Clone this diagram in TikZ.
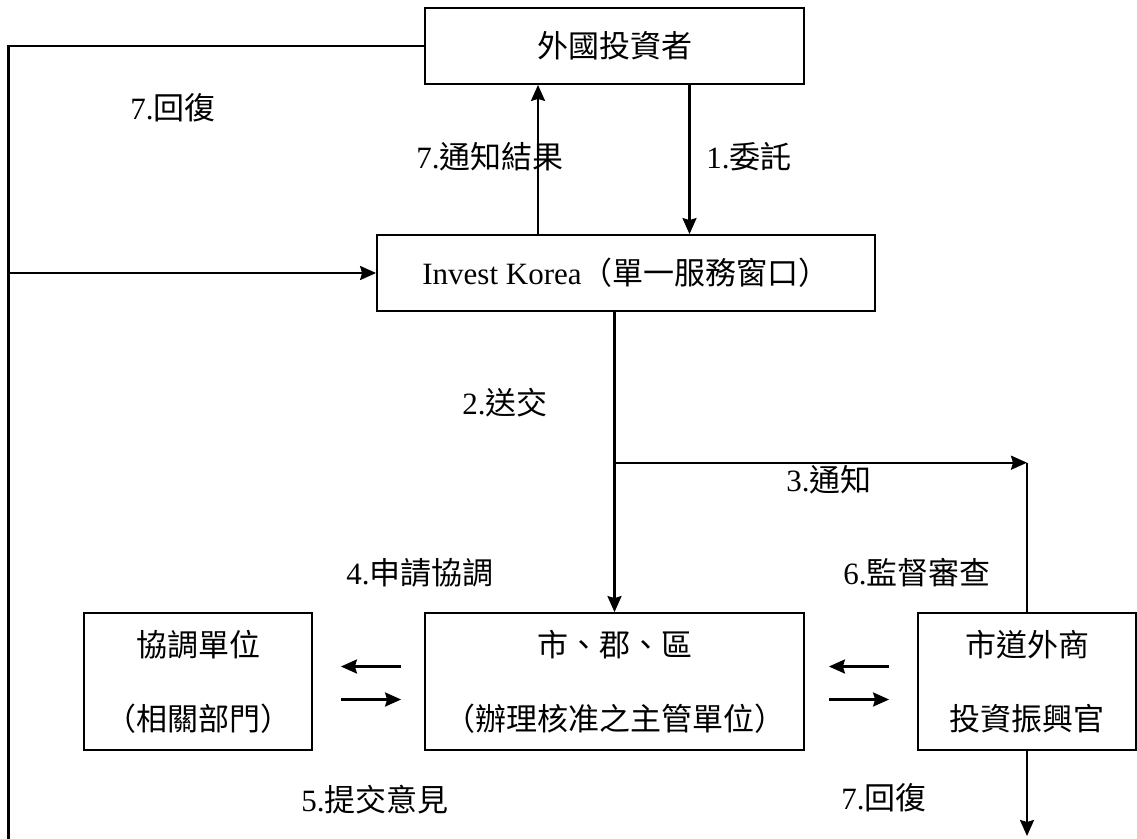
\documentclass[tikz,border=0pt]{standalone}
\usepackage{fontspec}
\setmainfont{Liberation Serif}
\newfontfamily\cjk{Noto Sans CJK TC}
\usetikzlibrary{arrows.meta}
\begin{document}
\begin{tikzpicture}[x=1pt,y=-1pt,
  box/.style={draw,line width=1.8pt,inner sep=0pt,align=center,font=\fontsize{31}{74}\selectfont},
  conn/.style={line width=2.4pt},
  arr/.style={conn,-{Stealth[length=16pt,width=14pt,inset=2pt]}},
  lbl/.style={inner sep=0pt,font=\fontsize{31}{37}\selectfont}]
\useasboundingbox[fill=white] (0,0) rectangle (1137,838);
% boxes
\node[box,minimum width=379pt,minimum height=76pt] (inv) at (614.5,46) {\cjk 外國投資者};
\node[box,minimum width=498pt,minimum height=76pt] (ik) at (626,273) {Invest Korea{\cjk（單一服務窗口）}};
\node[box,minimum width=228pt,minimum height=137pt,font=\fontsize{31}{74}\selectfont\cjk] (coord) at (198,681.5) {協調單位\\（相關部門）};
\node[box,minimum width=379pt,minimum height=137pt,font=\fontsize{31}{74}\selectfont\cjk] (city) at (614.5,681.5) {市、郡、區\\（辦理核准之主管單位）};
\node[box,minimum width=218pt,minimum height=137pt,font=\fontsize{31}{74}\selectfont\cjk] (prom) at (1027,681.5) {市道外商\\投資振興官};
% free ends
\coordinate (bl) at (8.4,850);
\coordinate (br) at (1027,836);
\coordinate (j) at (614.5,462.7);
% connectors
\draw[arr] ([xshift=-88pt]ik.north) -- ([xshift=-76.5pt]inv.south);
\draw[arr] ([xshift=75pt]inv.south) -- ([xshift=63.5pt]ik.north);
\draw[conn] (inv.west) -| (bl);
\draw[arr] (ik.west -| bl) -- (ik.west);
\draw[arr] (city.north |- ik.south) -- (city.north);
\draw[arr] (j) -- (j -| prom.north);
\draw[conn] (j -| prom.north) -- (prom.north);
\draw[arr] (prom.south) -- (br);
\draw[arr,shorten <=23pt,shorten >=28pt] ([yshift=15pt]city.west) -- ([yshift=15pt]coord.east);
\draw[arr,shorten <=28pt,shorten >=23pt] ([yshift=-18pt]coord.east) -- ([yshift=-18pt]city.west);
\draw[arr,shorten <=28pt,shorten >=24pt] ([yshift=15pt]prom.west) -- ([yshift=15pt]city.east);
\draw[arr,shorten <=24pt,shorten >=28pt] ([yshift=-18pt]city.east) -- ([yshift=-18pt]prom.west);
% labels
\node[lbl] (l7a) at (173,108) {7.{\cjk 回復}};
\node[lbl] (l7b) at (490,157) {7.{\cjk 通知結果}};
\node[lbl] (l1) at (749,157) {1.{\cjk 委託}};
\node[lbl] (l2) at (505,403) {2.{\cjk 送交}};
\node[lbl] (l3) at (829,480) {3.{\cjk 通知}};
\node[lbl] (l4) at (420,573) {4.{\cjk 申請協調}};
\node[lbl] (l6) at (917,573) {6.{\cjk 監督審查}};
\node[lbl] (l5) at (375,800) {5.{\cjk 提交意見}};
\node[lbl] (l7c) at (884,798) {7.{\cjk 回復}};
\end{tikzpicture}
\end{document}
